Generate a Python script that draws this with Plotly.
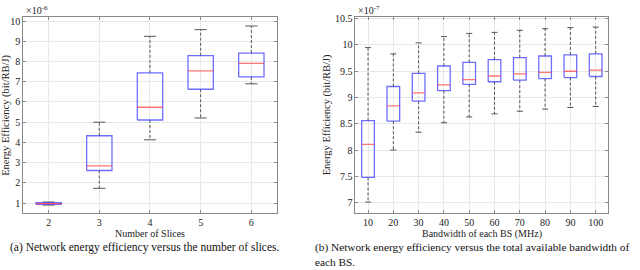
import plotly.graph_objects as go

# ---- data (a): energy efficiency vs number of slices (x1e-6)
slices = [2, 3, 4, 5, 6]
a_lower = [0.90, 1.73, 4.13, 5.21, 6.90]
a_q1 = [0.93, 2.61, 5.11, 6.63, 7.24]
a_med = [0.97, 2.84, 5.74, 7.54, 7.91]
a_q3 = [1.02, 4.33, 7.44, 8.29, 8.42]
a_upper = [1.05, 5.00, 9.25, 9.58, 9.76]

# ---- data (b): energy efficiency vs bandwidth of each BS (x1e-7)
bandwidth = [10, 20, 30, 40, 50, 60, 70, 80, 90, 100]
b_lower = [7.01, 8.00, 8.34, 8.52, 8.63, 8.69, 8.74, 8.78, 8.81, 8.83]
b_q1 = [7.48, 8.55, 8.93, 9.13, 9.25, 9.30, 9.33, 9.36, 9.38, 9.40]
b_med = [8.11, 8.84, 9.09, 9.24, 9.34, 9.41, 9.45, 9.48, 9.50, 9.52]
b_q3 = [8.56, 9.21, 9.46, 9.60, 9.67, 9.72, 9.76, 9.79, 9.81, 9.83]
b_upper = [9.95, 9.83, 10.04, 10.16, 10.22, 10.24, 10.28, 10.31, 10.33, 10.34]

FONT = "Liberation Serif"
BOX_C = "rgba(60,60,255,0.75)"
MED_C = "rgba(255,60,60,0.7)"
WH_C = "#555555"


def box_traces(xs, lo, q1, med, q3, hi, step, xa, ya):
    hw = 0.25 * step   # box half width
    cw = 0.12 * step   # cap half width
    bx, by, mx, my, wx, wy, cx, cy = [], [], [], [], [], [], [], []
    for x, l, a, m, b, h in zip(xs, lo, q1, med, q3, hi):
        bx += [x - hw, x + hw, x + hw, x - hw, x - hw, None]
        by += [a, a, b, b, a, None]
        mx += [x - hw, x + hw, None]
        my += [m, m, None]
        wx += [x, x, None, x, x, None]
        wy += [b, h, None, a, l, None]
        cx += [x - cw, x + cw, None, x - cw, x + cw, None]
        cy += [h, h, None, l, l, None]
    common = dict(mode="lines", xaxis=xa, yaxis=ya, showlegend=False, hoverinfo="skip")
    return [
        go.Scatter(x=wx, y=wy, line=dict(color=WH_C, width=1, dash="3px,2px"), **common),
        go.Scatter(x=cx, y=cy, line=dict(color=WH_C, width=1), **common),
        go.Scatter(x=bx, y=by, line=dict(color=BOX_C, width=1.3), **common),
        go.Scatter(x=mx, y=my, line=dict(color=MED_C, width=1.3), **common),
    ]


fig = go.Figure()
for t in box_traces(slices, a_lower, a_q1, a_med, a_q3, a_upper, 1, "x", "y"):
    fig.add_trace(t)
for t in box_traces(bandwidth, b_lower, b_q1, b_med, b_q3, b_upper, 10, "x2", "y2"):
    fig.add_trace(t)

ax_common = dict(
    showline=True, linecolor="#888888", linewidth=1, mirror="ticks",
    ticks="inside", ticklen=3, tickcolor="#888888",
    showgrid=True, gridcolor="#e8e8e8", gridwidth=1, zeroline=False,
    tickfont=dict(family=FONT, size=10, color="#222222"),
)

fig.update_layout(
    width=640, height=270,
    margin=dict(l=0, r=0, t=0, b=0),
    paper_bgcolor="white", plot_bgcolor="white",
    xaxis=dict(domain=[0.0364, 0.4323], range=[1.5, 6.5], tickvals=slices, **ax_common),
    yaxis=dict(domain=[0.2137, 0.9507], range=[0.5, 10.2], tickvals=[1, 2, 3, 4, 5, 6, 7, 8, 9, 10], **ax_common),
    xaxis2=dict(domain=[0.5553, 0.9505], range=[5, 105], tickvals=bandwidth, anchor="y2", **ax_common),
    yaxis2=dict(domain=[0.2137, 0.9507], range=[6.8, 10.53], anchor="x2",
                tickvals=[7, 7.5, 8, 8.5, 9, 9.5, 10, 10.5],
                ticktext=["7", "7.5", "8", "8.5", "9", "9.5", "10", "10.5"], **ax_common),
)

tf = dict(family=FONT, size=10, color="#222222")
yf = dict(family=FONT, size=10.5, color="#222222")
cf = dict(family=FONT, size=11.5, color="#111111")
cfb = dict(family=FONT, size=11.3, color="#111111")
ymid = 1 - 113 / 270
ann = [
    dict(text="×10<sup>-6</sup>", x=0.037, y=0.978, xanchor="left", yanchor="middle", font=tf),
    dict(text="×10<sup>-7</sup>", x=0.556, y=0.978, xanchor="left", yanchor="middle", font=tf),
    dict(text="Energy Efficiency (bit/RB/J)", x=6.5 / 640, y=ymid, textangle=-90, xanchor="center", yanchor="middle", font=yf),
    dict(text="Energy Efficiency (bit/RB/J)", x=327 / 640, y=ymid, textangle=-90, xanchor="center", yanchor="middle", font=yf),
    dict(text="Number of Slices", x=0.234, y=1 - 233 / 270, xanchor="center", yanchor="middle", font=tf),
    dict(text="Bandwidth of each BS (MHz)", x=0.753, y=1 - 233 / 270, xanchor="center", yanchor="middle", font=tf),
    dict(text="(a) Network energy efficiency versus the number of slices.", x=8 / 640, y=1 - 247 / 270, xanchor="left", yanchor="middle", font=cf),
    dict(text="(b) Network energy efficiency versus the total available bandwidth of", x=313 / 640, y=1 - 247 / 270, xanchor="left", yanchor="middle", font=cfb),
    dict(text="each BS.", x=313 / 640, y=1 - 262 / 270, xanchor="left", yanchor="middle", font=cfb),
]
for a in ann:
    a.update(xref="paper", yref="paper", showarrow=False)
fig.update_layout(annotations=ann)

fig.write_html("out.html", config={"displayModeBar": False, "staticPlot": True},
               post_script="document.body.style.margin='0';")
